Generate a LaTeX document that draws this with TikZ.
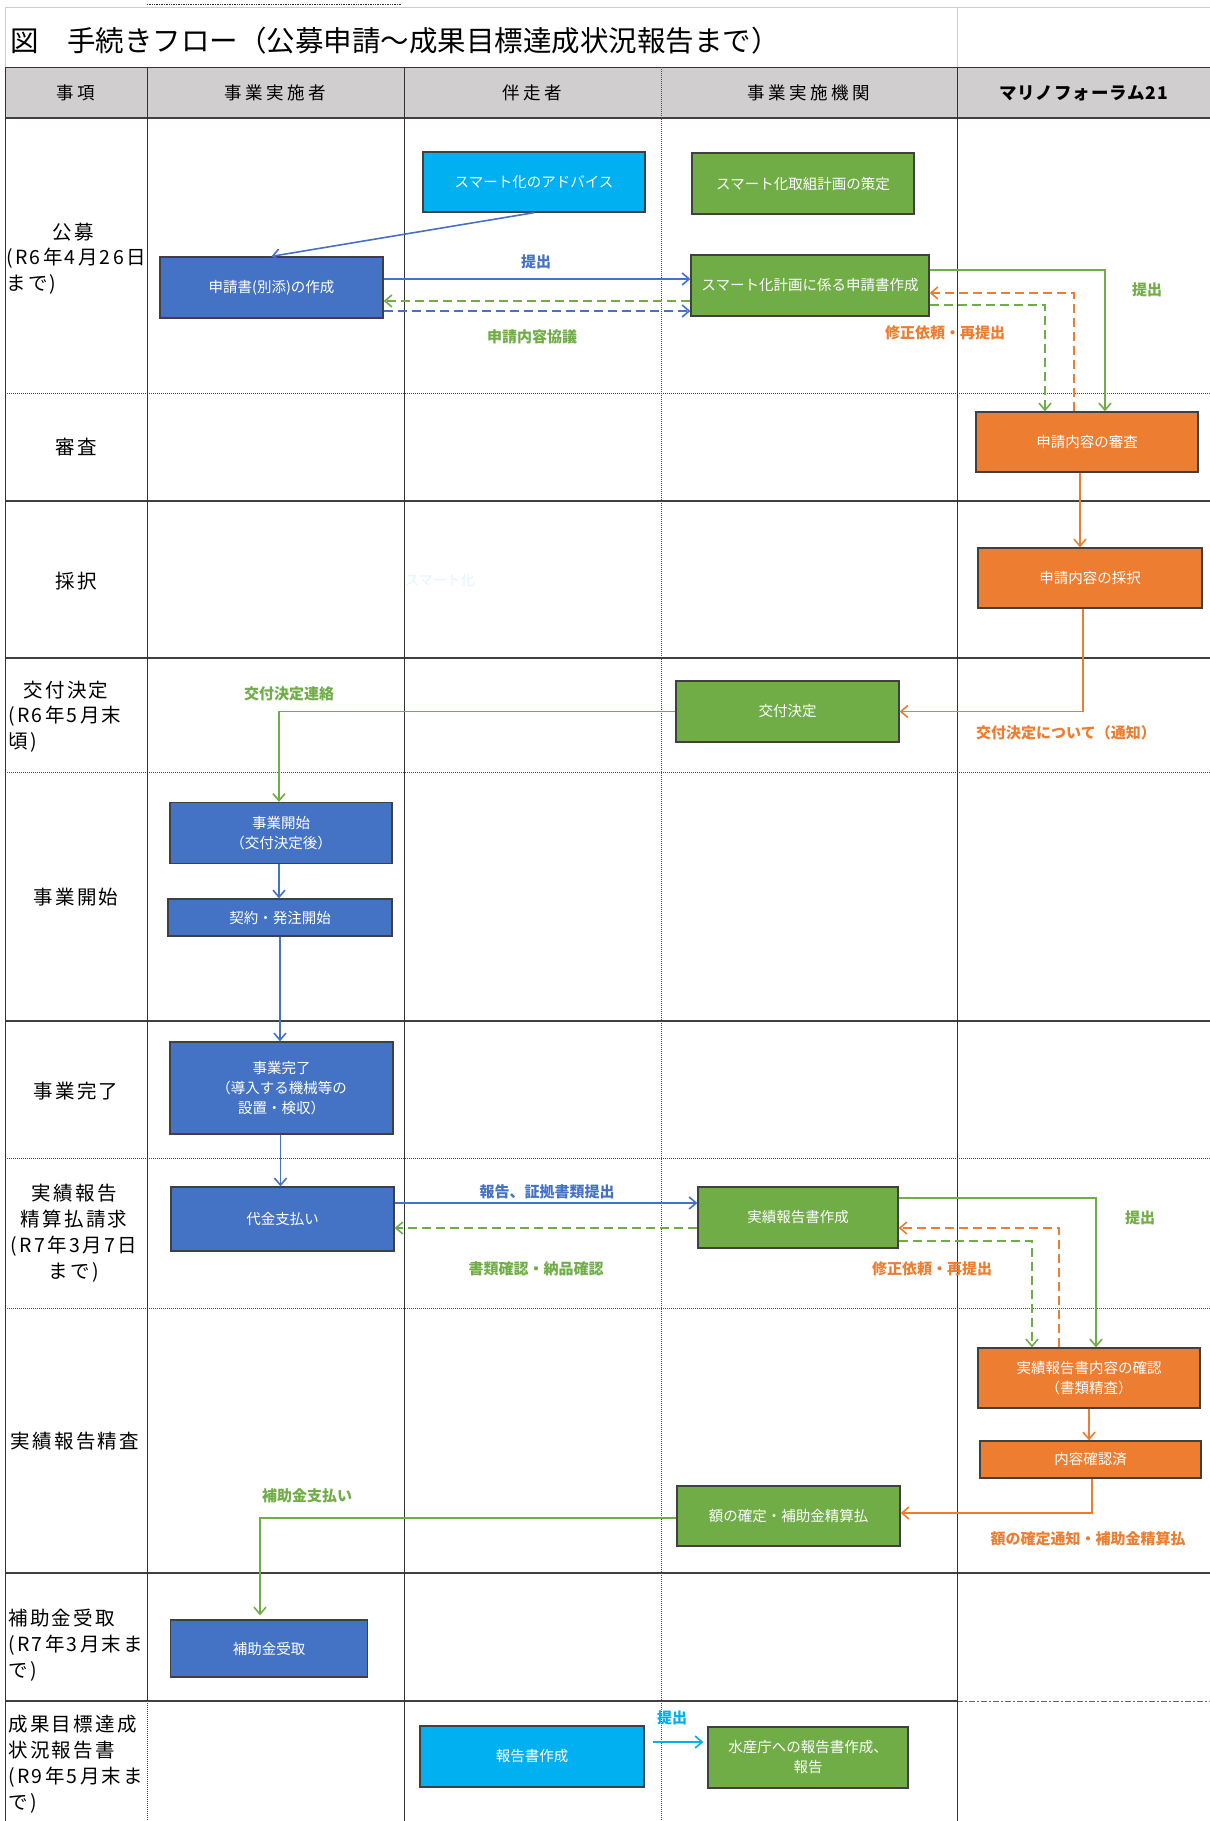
\documentclass[tikz,border=0pt]{standalone}
\usepackage{fontspec}
\setmainfont{Noto Sans CJK JP}
\usetikzlibrary{arrows.meta,calc}
\definecolor{cblue}{HTML}{4472C4}
\definecolor{cgreen}{HTML}{70AD47}
\definecolor{corange}{HTML}{ED7D31}
\definecolor{ccyan}{HTML}{00B0F0}
\definecolor{hdr}{HTML}{D0CECE}
\newcommand{\myfs}[2]{\fontsize{#1}{#2}\selectfont}
\tikzset{
  bx/.style={draw=black!75, line width=1.3pt, text=white, inner sep=0pt, align=center,
             font=\myfs{14.5}{20}},
  bluebox/.style={bx, fill=cblue},
  greenbox/.style={bx, fill=cgreen},
  orangebox/.style={bx, fill=corange},
  cyanbox/.style={bx, fill=ccyan},
  arr/.style={line width=1.6pt, -{Straight Barb[length=7pt,width=12pt]}},
  dsh/.style={dash pattern=on 9pt off 5pt},
  barrow/.style={arr, draw=cblue},
  garrow/.style={arr, draw=cgreen},
  oarrow/.style={arr, draw=corange},
  carrow/.style={arr, draw=ccyan},
  lbl/.style={inner sep=0pt, font=\myfs{15}{18}\bfseries},
  rowlbl/.style={inner sep=0pt, font=\myfs{19.5}{26}\addfontfeatures{LetterSpace=12}},
  hdrlbl/.style={inner sep=0pt, font=\myfs{17.5}{20}\addfontfeatures{LetterSpace=20}},
  gridsolid/.style={draw=black!80, line width=1pt},
  gridthick/.style={draw=black!75, line width=1.6pt},
  griddot/.style={draw=black!70, line width=0.9pt, dash pattern=on 1pt off 1pt},
}
\begin{document}
\begin{tikzpicture}[x=1pt,y=-1pt]
\useasboundingbox (0,0) rectangle (1210,1821);
\fill[white] (0,0) rectangle (1210,1821);
% title area frame
\draw[black!20, line width=0.8pt] (5,67) -- (5,7) -- (1210,7);
\draw[black!20, line width=0.8pt] (957,7) -- (957,67);
\draw[black!80, line width=0.8pt, dash pattern=on 1pt off 0.7pt] (147,4) -- (402,4);
\node[inner sep=0pt, anchor=west, font=\myfs{28.5}{31}] (title) at (10,41) {図　手続きフロー（公募申請～成果目標達成状況報告まで）};
% header
\fill[hdr] (5,67) rectangle (1210,118);
% horizontal grid lines
\draw[gridsolid] (5,67) -- (1210,67);
\draw[gridthick] (5,118) -- (1210,118);
\draw[griddot] (5,393) -- (1210,393);
\draw[gridthick] (5,501) -- (1210,501);
\draw[gridthick] (5,658) -- (1210,658);
\draw[griddot] (5,772) -- (1210,772);
\draw[gridthick] (5,1021) -- (1210,1021);
\draw[griddot] (5,1158) -- (1210,1158);
\draw[griddot] (5,1308) -- (1210,1308);
\draw[gridthick] (5,1573) -- (1210,1573);
\draw[gridthick] (5,1701) -- (957,1701);
\draw[black!60, line width=1pt, dash pattern=on 6pt off 2pt on 2pt off 2pt] (957,1701) -- (1210,1701);
% vertical grid lines
\draw[gridsolid] (5,67) -- (5,1821);
\draw[gridsolid] (147,67) -- (147,1701);
\draw[griddot] (147,1701) -- (147,1821);
\draw[gridsolid] (404,67) -- (404,1821);
\draw[griddot] (661,67) -- (661,1821);
\draw[gridsolid] (957,67) -- (957,1821);
% header labels
\node[hdrlbl] (h1) at (76,93) {事項};
\node[hdrlbl] (h2) at (275.5,93) {事業実施者};
\node[hdrlbl] (h3) at (532.5,93) {伴走者};
\node[hdrlbl] (h4) at (809,93) {事業実施機関};
\node[hdrlbl, font=\myfs{17.5}{20}\bfseries\addfontfeatures{LetterSpace=5}] (h5) at (1083.5,93) {マリノフォーラム21};
% row labels
\node[rowlbl] (r1a) at (73,232) {公募};
\node[rowlbl, anchor=west, align=left] (r1b) at (6,271.5) {(R6年4月26日\\まで)};
\node[rowlbl] (r2) at (76,447) {審査};
\node[rowlbl] (r3) at (76,581) {採択};
\node[rowlbl] (r4a) at (66,690) {交付決定};
\node[rowlbl, anchor=west, align=left] (r4b) at (8,729.5) {(R6年5月末\\頃)};
\node[rowlbl] (r5) at (76,897) {事業開始};
\node[rowlbl] (r6) at (76,1091) {事業完了};
\node[rowlbl, align=center] (r7) at (74,1233.5) {実績報告\\精算払請求\\(R7年3月7日\\まで)};
\node[rowlbl] (r8) at (75,1441) {実績報告精査};
\node[rowlbl, anchor=west, align=left] (r9) at (8,1645.5) {補助金受取\\(R7年3月末ま\\で)};
\node[rowlbl, anchor=west, align=left] (r10) at (8,1764) {成果目標達成\\状況報告書\\(R9年5月末ま\\で)};
% faint artefact text
\node[inner sep=0pt, font=\myfs{14}{16}, text=ccyan!12] (faint) at (440,580) {スマート化};
% boxes
\node[cyanbox, minimum width=222pt, minimum height=60pt] (advice) at (534,182) {スマート化のアドバイス};
\node[greenbox, minimum width=222pt, minimum height=61pt] (plan) at (803,183.5) {スマート化取組計画の策定};
\node[bluebox, minimum width=223pt, minimum height=61pt] (apply) at (271.5,287.5) {申請書(別添)の作成};
\node[greenbox, minimum width=238pt, minimum height=61pt] (planapp) at (810,285.5) {スマート化計画に係る申請書作成};
\node[orangebox, minimum width=222pt, minimum height=60pt] (review) at (1087,442) {申請内容の審査};
\node[orangebox, minimum width=224pt, minimum height=60pt] (adopt) at (1090,578) {申請内容の採択};
\node[greenbox, minimum width=223pt, minimum height=61pt] (grant) at (787.5,711.5) {交付決定};
\node[bluebox, minimum width=222pt, minimum height=61pt] (start) at (281,833) {事業開始\\（交付決定後）};
\node[bluebox, minimum width=224pt, minimum height=37pt] (contract) at (280,917.5) {契約・発注開始};
\node[bluebox, minimum width=223pt, minimum height=92pt] (complete) at (281.5,1088) {事業完了\\（導入する機械等の\\設置・検収）};
\node[bluebox, minimum width=223pt, minimum height=64pt] (pay) at (282.5,1219) {代金支払い};
\node[greenbox, minimum width=200pt, minimum height=61pt] (report) at (798,1217.5) {実績報告書作成};
\node[orangebox, minimum width=222pt, minimum height=60pt] (check) at (1089,1378) {実績報告書内容の確認\\（書類精査）};
\node[orangebox, minimum width=221pt, minimum height=37pt] (confirmed) at (1090.5,1459.5) {内容確認済};
\node[greenbox, minimum width=223pt, minimum height=60pt] (amount) at (788.5,1516) {額の確定・補助金精算払};
\node[bluebox, minimum width=197pt, minimum height=57pt] (receive) at (269,1648.5) {補助金受取};
\node[cyanbox, minimum width=224pt, minimum height=61pt] (writerep) at (532,1756.5) {報告書作成};
\node[greenbox, minimum width=200pt, minimum height=61pt] (fisheries) at (808,1757.5) {水産庁への報告書作成、\\報告};
% connectors: application phase
\draw[barrow] (advice.south) -- (apply.north);
\draw[barrow] ([yshift=8.5pt]apply.east) -- ([yshift=8.5pt]apply.east -| planapp.west);
\draw[garrow, dsh] ([yshift=-13.5pt]apply.east -| planapp.west) -- ([yshift=-13.5pt]apply.east);
\draw[barrow, dsh] ([yshift=-23.5pt]apply.east) -- ([yshift=-23.5pt]apply.east -| planapp.west);
\node[lbl, text=cblue] (l1) at (536,262) {提出};
\node[lbl, text=cgreen] (l2) at (532,337) {申請内容協議};
\draw[garrow] ([yshift=15.5pt]planapp.east) -| ([xshift=18pt]review.north);
\draw[oarrow, dsh] ([xshift=-13pt]review.north) |- ([yshift=-7.5pt]planapp.east);
\draw[garrow, dsh] ([yshift=-19.5pt]planapp.east) -| ([xshift=-42pt]review.north);
\node[lbl, text=cgreen] (l3) at (1147,290) {提出};
\node[lbl, text=corange] (l4) at (945,333) {修正依頼・再提出};
\draw[oarrow] ([xshift=-7pt]review.south) -- ([xshift=-7pt]review.south |- adopt.north);
\draw[oarrow] ([xshift=-7pt]adopt.south) |- (grant.east);
\node[lbl, text=corange] (l5) at (1066,733) {交付決定について（通知）};
\draw[garrow] (grant.west) -| ([xshift=-2pt]start.north);
\node[lbl, text=cgreen] (l6) at (289,694) {交付決定連絡};
% implementation phase
\draw[barrow] ([xshift=-2pt]start.south) -- ([xshift=-2pt]start.south |- contract.north);
\draw[barrow] (contract.south) -- (contract.south |- complete.north);
\draw[barrow] ([xshift=-1pt]complete.south) -- ([xshift=-1pt]complete.south |- pay.north);
\draw[barrow] ([yshift=16pt]pay.east) -- ([yshift=16pt]pay.east -| report.west);
\draw[garrow, dsh] ([yshift=-9pt]pay.east -| report.west) -- ([yshift=-9pt]pay.east);
\node[lbl, text=cblue] (l7) at (547,1192) {報告、証拠書類提出};
\node[lbl, text=cgreen] (l8) at (536,1269) {書類確認・納品確認};
\draw[garrow] ([yshift=19.5pt]report.east) -| ([xshift=7pt]check.north);
\draw[oarrow, dsh] ([xshift=-30pt]check.north) |- ([yshift=-10.5pt]report.east);
\draw[garrow, dsh] ([yshift=-23.5pt]report.east) -| ([xshift=-57pt]check.north);
\node[lbl, text=cgreen] (l9) at (1140,1218) {提出};
\node[lbl, text=corange] (l10) at (932,1269) {修正依頼・再提出};
\draw[oarrow] (check.south) -- (check.south |- confirmed.north);
\draw[oarrow] ([xshift=1.5pt]confirmed.south) |- ([yshift=3pt]amount.east);
\node[lbl, text=corange] (l11) at (1088,1539) {額の確定通知・補助金精算払};
\draw[garrow, shorten >=4pt] ([yshift=-2pt]amount.west) -| ([xshift=-9pt]receive.north);
\node[lbl, text=cgreen] (l12) at (307,1496) {補助金支払い};
% final report
\draw[carrow] ([xshift=8pt,yshift=14.5pt]writerep.east) -- ([yshift=14.5pt,xshift=-4pt]writerep.east -| fisheries.west);
\node[lbl, text=ccyan] (l13) at (672,1718) {提出};
\end{tikzpicture}
\end{document}
